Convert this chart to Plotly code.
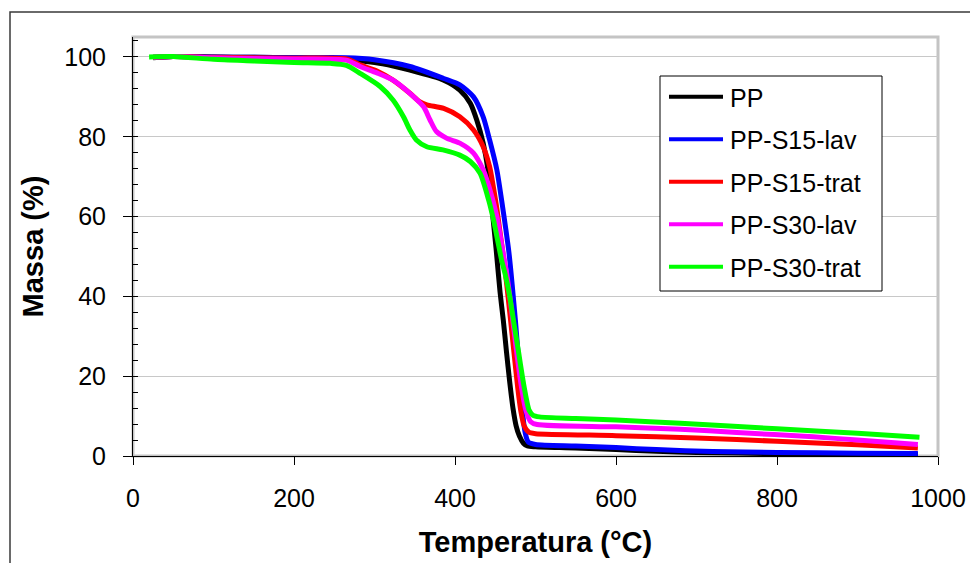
import plotly.graph_objects as go

# ---------------- data ----------------
names = ["PP", "PP-S15-lav", "PP-S15-trat", "PP-S30-lav", "PP-S30-trat"]
colors = ["#000000", "#0000ff", "#ff0000", "#ff00ff", "#00ff00"]

pp_t = [25, 50, 100, 150, 200, 250, 282, 310, 344, 386, 406, 419, 427, 435, 441, 446,
        451, 456, 460, 464, 468, 472, 476, 480, 485, 490, 500, 550, 600, 650, 700, 800, 900, 975]
pp_m = [99.8, 100.1, 100.0, 99.9, 99.8, 99.6, 99.0, 98.3, 96.7, 94.2, 91.7, 88.4, 84.2, 78.4, 71.7, 62.0,
        52.0, 41.0, 34.0, 26.0, 18.5, 12.0, 7.5, 5.0, 3.2, 2.5, 2.3, 2.0, 1.6, 1.2, 0.9, 0.6, 0.5, 0.4]

s15lav_t = [25, 50, 100, 150, 200, 265, 300, 344, 386, 406, 423, 435, 443, 452, 458, 463,
            467, 471, 475, 479, 483, 487, 491, 500, 550, 600, 650, 720, 800, 900, 975]
s15lav_m = [99.9, 100.1, 100.0, 99.9, 99.8, 99.8, 99.3, 97.6, 94.6, 93.0, 90.0, 85.0, 79.2, 71.7, 64.0, 57.0,
            51.0, 43.0, 34.0, 24.0, 13.0, 6.0, 3.5, 2.9, 2.5, 2.1, 1.6, 1.1, 0.9, 0.7, 0.6]

s15trat_t = [25, 50, 100, 150, 200, 265, 282, 303, 323, 344, 356, 365, 386, 406, 423, 435, 443,
             448, 452, 456, 462, 468, 474, 478, 482, 486, 492, 500, 600, 700, 800, 900, 975]
s15trat_m = [99.9, 100.1, 99.9, 99.8, 99.7, 99.5, 98.0, 96.5, 94.2, 90.9, 88.8, 88.0, 87.1, 85.0, 81.7, 77.5, 72.5,
             67.0, 62.0, 56.0, 47.0, 36.0, 24.5, 17.0, 11.0, 7.5, 5.9, 5.6, 5.1, 4.5, 3.7, 2.8, 2.0]

s30lav_t = [25, 50, 100, 150, 200, 265, 282, 303, 323, 344, 361, 369, 377, 390, 406, 423, 435,
            443, 452, 458, 464, 470, 476, 482, 488, 494, 502, 600, 680, 750, 845, 900, 975]
s30lav_m = [99.9, 100.1, 99.8, 99.6, 99.5, 99.2, 97.6, 96.0, 94.2, 90.9, 87.5, 84.2, 81.3, 79.6, 78.4, 75.9, 71.7,
            67.0, 60.0, 53.0, 46.0, 37.0, 27.0, 18.0, 11.5, 8.6, 7.9, 7.3, 6.7, 5.9, 4.8, 4.0, 2.9]

s30trat_t = [20, 50, 100, 150, 200, 245, 265, 282, 307, 323, 336, 344, 352, 365, 385, 406, 419,
             431, 442, 448, 453, 458, 463, 468, 473, 479, 484, 488, 492, 497, 505, 550, 600, 680, 800, 900, 977]
s30trat_m = [100.0, 100.1, 99.4, 99.0, 98.6, 98.4, 97.9, 95.9, 92.6, 89.2, 85.0, 81.7, 79.2, 77.5, 76.7, 75.4, 73.8,
             70.9, 64.0, 59.0, 54.0, 49.0, 45.0, 40.0, 33.5, 26.0, 19.5, 15.0, 11.5, 10.2, 9.8, 9.4, 9.0, 8.2, 6.8, 5.7, 4.7]

series_t = [pp_t, s15lav_t, s15trat_t, s30lav_t, s30trat_t]
series_m = [pp_m, s15lav_m, s15trat_m, s30lav_m, s30trat_m]

x_ticks = [0, 200, 400, 600, 800, 1000]
y_ticks = [0, 20, 40, 60, 80, 100]

# ---------------- layout geometry (pixels) ----------------
W, H = 970, 563
L, R, T, B = 133, 938, 37, 456  # plot area edges in pixels
FONT = "Arial, Liberation Sans, sans-serif"


def px(xp):
    return (xp - L) / (R - L)


def py(yp):
    return (B - yp) / (B - T)


fig = go.Figure()
for t, m, n, c in zip(series_t, series_m, names, colors):
    fig.add_trace(go.Scatter(x=t, y=m, name=n, mode="lines",
                             line=dict(color=c, width=5, shape="spline", smoothing=0.7),
                             showlegend=False))

shapes = []
# outer chart border
shapes.append(dict(type="rect", xref="paper", yref="paper",
                   x0=px(10), x1=px(975), y0=py(570), y1=py(12),
                   line=dict(color="#3a3a3a", width=1.5), layer="below"))
# grey plot area frame (top / right)
shapes.append(dict(type="rect", xref="paper", yref="paper",
                   x0=0, x1=1, y0=0, y1=1,
                   line=dict(color="#c4c4c4", width=3), layer="below"))

annotations = []
# manual legend (long line samples like the original)
lx0, lx1, ly0, ly1 = 660, 882, 76, 291
shapes.append(dict(type="rect", xref="paper", yref="paper",
                   x0=px(lx0), x1=px(lx1), y0=py(ly1), y1=py(ly0),
                   line=dict(color="#000000", width=1), fillcolor="white", layer="above"))
row_y = [96.7, 139.2, 181.7, 224.2, 266.7]
for n, c, ry in zip(names, colors, row_y):
    shapes.append(dict(type="line", xref="paper", yref="paper",
                       x0=px(669), x1=px(723), y0=py(ry), y1=py(ry),
                       line=dict(color=c, width=4), layer="above"))
    annotations.append(dict(xref="paper", yref="paper", x=px(728), y=py(ry + 1),
                            xanchor="left", yanchor="middle", text=n, showarrow=False,
                            font=dict(family=FONT, size=25, color="black")))

fig.update_layout(
    width=W, height=H,
    margin=dict(l=L, r=W - R, t=T, b=H - B, autoexpand=False),
    paper_bgcolor="white", plot_bgcolor="white",
    font=dict(family=FONT, size=25, color="black"),
    shapes=shapes, annotations=annotations,
    showlegend=False,
)

fig.update_xaxes(
    range=[0, 1000], tickvals=x_ticks, ticktext=[str(v) for v in x_ticks],
    showgrid=False, zeroline=False, automargin=False,
    showline=True, linecolor="black", linewidth=1,
    ticks="outside", ticklen=8, tickcolor="black", tickwidth=1,
    ticklabelstandoff=12,
    tickfont=dict(family=FONT, size=25, color="black"),
    title=dict(text="<b>Temperatura (°C)</b>", font=dict(family=FONT, size=29, color="black"), standoff=20),
)
fig.update_yaxes(
    range=[0, 105], tickvals=y_ticks, ticktext=[str(v) for v in y_ticks],
    showgrid=True, gridcolor="#c8c8c8", gridwidth=1, zeroline=False, automargin=False,
    showline=True, linecolor="black", linewidth=1,
    ticks="outside", ticklen=9, tickcolor="black", tickwidth=1,
    ticklabelstandoff=12,
    minor=dict(ticks="inside", ticklen=5, dtick=4, tick0=0, tickcolor="black", showgrid=False),
    tickfont=dict(family=FONT, size=25, color="black"),
    title=dict(text="<b>Massa (%)</b>", font=dict(family=FONT, size=29, color="black"), standoff=12),
)

fig.write_html("out.html", config={"displayModeBar": False},
               post_script="document.body.style.margin='0';document.body.style.padding='0';")
